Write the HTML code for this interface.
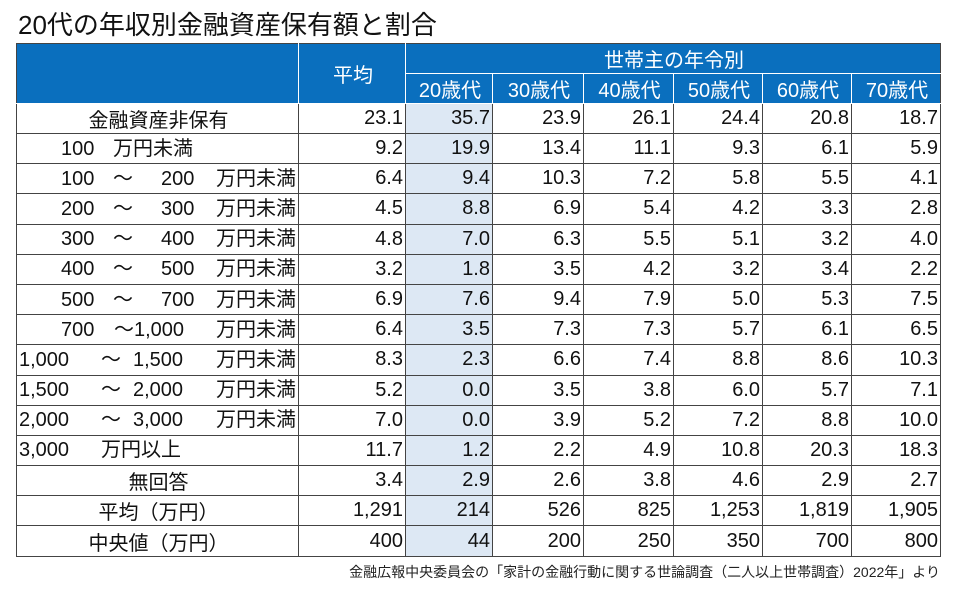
<!DOCTYPE html>
<html><head><meta charset="utf-8"><style>
body{margin:0;width:960px;height:598px;background:#fff;position:relative;overflow:hidden;font-family:"Liberation Sans","Noto Sans CJK JP",sans-serif;}
#title{position:absolute;left:18px;top:5px;font-size:26px;color:#111;white-space:nowrap;}
table{position:absolute;left:16px;top:43px;border-collapse:collapse;table-layout:fixed;font-size:20px;color:#111;}
td,th{border:1.5px solid #444;padding:0 2px 0 4px;overflow:hidden;white-space:nowrap;}
th{background:#0a6fbe;color:#fff;font-weight:normal;border-color:#fff;text-align:center;}
.hdr th{border-top:1.5px solid #444;}
td.n{text-align:right;padding-right:2px;}
td.c20{background:#dde8f4;}
td.lab{padding:0;}
td.lab div{position:relative;height:22px;}
td.lab span{position:absolute;top:0;line-height:22px;}
td.ctr{text-align:center;}
#note{position:absolute;right:20px;top:562px;font-size:14px;color:#222;white-space:nowrap;}
</style></head><body>
<div id="title">20代の年収別金融資産保有額と割合</div>
<table>
<colgroup><col style="width:282px"><col style="width:107px"><col style="width:87px"><col style="width:91px"><col style="width:90px"><col style="width:89px"><col style="width:89px"><col style="width:89px"></colgroup>
<tbody id="tb">
<tr class="hdr" style="height:26px"><th rowspan="2" style="border-left:1.5px solid #444"></th><th rowspan="2">平均</th><th colspan="6" style="border-right:1.5px solid #444">世帯主の年令別</th></tr>
<tr style="height:29px"><th>20歳代</th><th>30歳代</th><th>40歳代</th><th>50歳代</th><th>60歳代</th><th style="border-right:1.5px solid #444">70歳代</th></tr>
</tbody></table>
<div id="note">金融広報中央委員会の「家計の金融行動に関する世論調査（二人以上世帯調査）2022年」より</div>
<script>
const rowLabels=["金融資産非保有","100　万円未満","100　～　200　万円未満","200　～　300　万円未満","300　～　400　万円未満","400　～　500　万円未満","500　～　700　万円未満","700　～1,000　万円未満","1,000　～　1,500　万円未満","1,500　～　2,000　万円未満","2,000　～　3,000　万円未満","3,000　万円以上","無回答","平均（万円）","中央値（万円）"];
const centered=[0,12,13,14];
const avgCol=["23.1","9.2","6.4","4.5","4.8","3.2","6.9","6.4","8.3","5.2","7.0","11.7","3.4","1,291","400"];
const age20=["35.7","19.9","9.4","8.8","7.0","1.8","7.6","3.5","2.3","0.0","0.0","1.2","2.9","214","44"];
const age30=["23.9","13.4","10.3","6.9","6.3","3.5","9.4","7.3","6.6","3.5","3.9","2.2","2.6","526","200"];
const age40=["26.1","11.1","7.2","5.4","5.5","4.2","7.9","7.3","7.4","3.8","5.2","4.9","3.8","825","250"];
const age50=["24.4","9.3","5.8","4.2","5.1","3.2","5.0","5.7","8.8","6.0","7.2","10.8","4.6","1,253","350"];
const age60=["20.8","6.1","5.5","3.3","3.2","3.4","5.3","6.1","8.6","5.7","8.8","20.3","2.9","1,819","700"];
const age70=["18.7","5.9","4.1","2.8","4.0","2.2","7.5","6.5","10.3","7.1","10.0","18.3","2.7","1,905","800"];
const tb=document.getElementById('tb');
function addSpan(div,text,left,right){
  const s=document.createElement('span');
  s.textContent=text;
  if(left!==null) s.style.left=left+'px';
  if(right!==null) s.style.right=right+'px';
  div.appendChild(s);
}
rowLabels.forEach((lab,i)=>{
  const tr=document.createElement('tr');
  
  
  tr.style.height=(i==0?26:30.2)+'px';
  const td=document.createElement('td');
  
  
  if(centered.includes(i)){
    td.className='ctr';
    td.textContent=lab;
  } else {
    td.className='lab';
    const d=document.createElement('div');
    d.textContent='';
    const parts=lab.split('　').filter(p=>p);
    const big=parts[0].length>3;
    const x0=big?2:44;
    if(parts.length==2){
      addSpan(d,parts[0],x0,null);
      addSpan(d,parts[1],big?84:96,null);
    } else if(parts.length==3){
      addSpan(d,parts[0],x0,null);
      addSpan(d,parts[1],97,null);
      addSpan(d,parts[2],null,2);
    } else {
      addSpan(d,parts[0],x0,null);
      addSpan(d,parts[1],big?84:96,null);
      addSpan(d,parts[2],big?116:144,null);
      addSpan(d,parts[3],null,2);
    }
    td.appendChild(d);
    const hidden=document.createElement('span');
    hidden.style.display='none';
    td.appendChild(hidden);
  }
  tr.appendChild(td);
  [avgCol,age20,age30,age40,age50,age60,age70].forEach((arr,j)=>{
    const c=document.createElement('td');
    
    
    c.className='n'+(j==1?' c20':'');
    c.textContent=arr[i];
    tr.appendChild(c);
  });
  tb.appendChild(tr);
});
</script>
</body></html>
